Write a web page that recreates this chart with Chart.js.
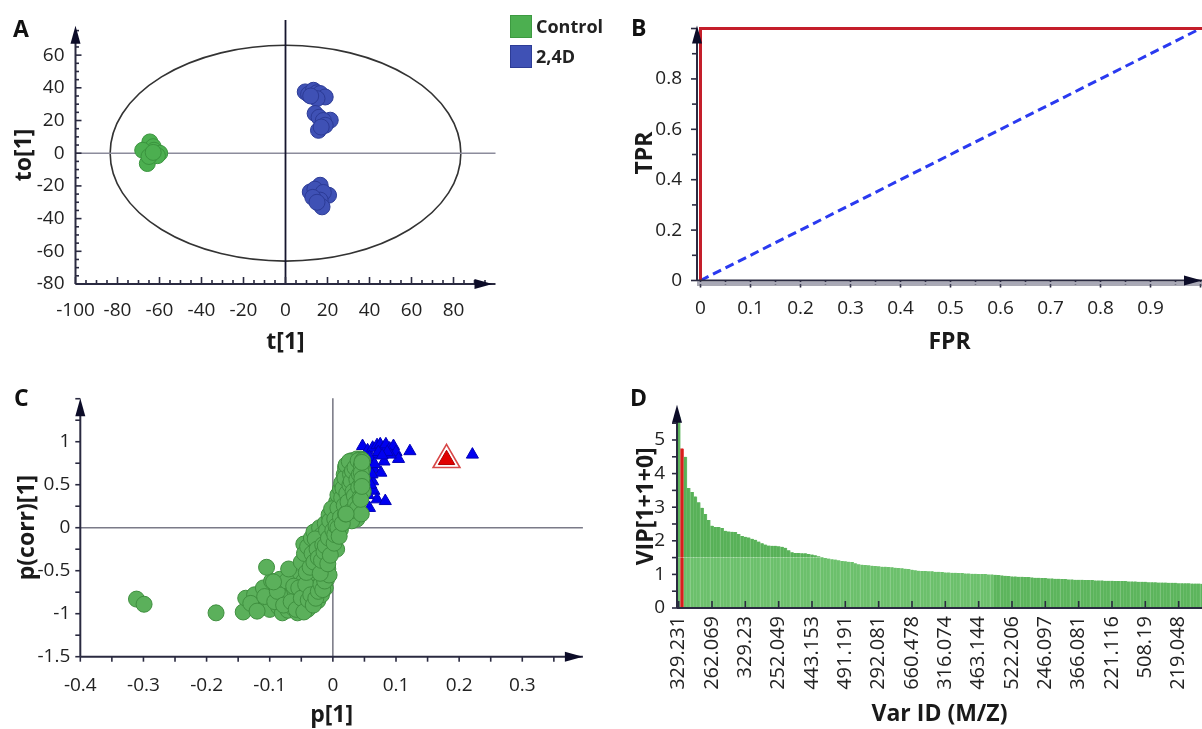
<!DOCTYPE html>
<html>
<head>
<meta charset="utf-8">
<script src="https://cdn.jsdelivr.net/npm/chart.js@4.4.1/dist/chart.umd.min.js"></script>
<style>
  body { margin: 0; background: #fff; }
  #wrap { position: relative; width: 1202px; height: 729px; overflow: hidden; font-family: 'Open Sans', sans-serif; background:#fff; }
  canvas { position: absolute; }
  .letter { position: absolute; font-weight: bold; font-size: 23px; color: #111; line-height: 1; }
  .sw { position: absolute; width: 22px; height: 23px; }
  .lt { position: absolute; font-weight: bold; font-size: 18px; color: #222; line-height: 1; }
</style>
</head>
<body>
<div id="wrap">
  <canvas id="cA" width="600" height="370" style="left:0;top:0"></canvas>
  <canvas id="cB" width="602" height="370" style="left:600px;top:0"></canvas>
  <canvas id="cC" width="600" height="359" style="left:0;top:370px"></canvas>
  <canvas id="cD" width="602" height="359" style="left:600px;top:370px"></canvas>
  <div class="letter" style="left:13px;top:17px">A</div>
  <div class="letter" style="left:631px;top:16px">B</div>
  <div class="letter" style="left:14px;top:386px">C</div>
  <div class="letter" style="left:630px;top:386px">D</div>
  <div class="sw" style="left:510px;top:15px;background:#4caf50;border:1px solid #3d9a41;box-sizing:border-box"></div>
  <div class="sw" style="left:510px;top:45px;background:#3f51b5;border:1px solid #2d3c96;box-sizing:border-box"></div>
  <div class="lt" style="left:536px;top:17px">Control</div>
  <div class="lt" style="left:536px;top:47px">2,4D</div>
</div>
<script>
// ---------------- DATA ----------------
// Panel A: OPLS-DA score plot  (t[1], to[1])
const controlT  = [-64.6, -63.0, -62.6, -59.9, -68.0, -65.8, -61.0, -65.0, -63.0];
const controlTo = [  6.9,   4.0,   1.8,   0.0,   1.8,  -6.3,  -1.5,  -2.0,   0.5];
const treatT  = [9.4, 11.0, 13.3, 15.0, 16.5, 18.9, 15.0, 12.0,
                 14.1, 16.0, 21.3, 18.0, 18.9, 15.7, 17.0,
                 16.5, 11.8, 14.0, 20.5, 18.0, 16.5, 17.4, 13.0, 15.0];
const treatTo = [37.5, 36.0, 38.5, 37.0, 36.5, 34.4, 33.4, 35.0,
                 24.3, 22.0, 20.2, 20.0, 17.1, 14.0, 16.0,
                -19.6,-23.7,-22.0,-25.7,-24.0,-28.7,-32.8,-27.0,-30.0];
const ellipseT = 83.5, ellipseTo = 66;
const ticksAx = [-100, -80, -60, -40, -20, 0, 20, 40, 60, 80];
const ticksAy = [-80, -60, -40, -20, 0, 20, 40, 60];

// Panel B: ROC curve
const rocFPR = [0, 0, 1.003];
const rocTPR = [0, 1, 1];
const chanceFPR = [0, 1];
const chanceTPR = [0, 1];
const ticksBx = [0, 0.1, 0.2, 0.3, 0.4, 0.5, 0.6, 0.7, 0.8, 0.9];
const ticksBy = [0, 0.2, 0.4, 0.6, 0.8];

// Panel C: S-plot  p[1] vs p(corr)[1]
const splotGreen = [
  [-0.311,-0.83],[-0.299,-0.89],[-0.185,-0.99],[-0.142,-0.98],[-0.138,-0.82],[-0.124,-0.78],
  [-0.118,-0.90],[-0.110,-0.70],[-0.104,-0.86],[-0.100,-0.95],[-0.097,-0.62],[-0.094,-0.78],
  [-0.090,-0.66],[-0.086,-0.92],[-0.082,-0.82],[-0.080,-0.99],[-0.077,-0.72],[-0.075,-0.88],
  [-0.071,-0.96],[-0.068,-0.80],[-0.066,-0.66],[-0.063,-0.93],[-0.060,-0.74],[-0.058,-0.86],
  [-0.056,-0.99],[-0.054,-0.58],[-0.052,-0.80],[-0.050,-0.69],[-0.048,-0.92],[-0.046,-0.62],
  [-0.044,-0.84],[-0.042,-0.76],[-0.040,-0.95],[-0.038,-0.55],[-0.036,-0.70],[-0.034,-0.88],
  [-0.032,-0.62],[-0.030,-0.80],[-0.028,-0.50],[-0.026,-0.72],[-0.024,-0.85],[-0.022,-0.60],
  [-0.020,-0.66],[-0.018,-0.78],[-0.015,-0.55],[-0.012,-0.70],[-0.010,-0.60],[-0.008,-0.48],
  [-0.130,-0.88],[-0.120,-0.97],[-0.108,-0.80],[-0.092,-0.86],[-0.088,-0.74],[-0.084,-0.60],
  [-0.078,-0.90],[-0.073,-0.62],[-0.066,-0.86],[-0.062,-0.68],[-0.058,-0.95],[-0.054,-0.70],
  [-0.050,-0.82],[-0.046,-0.98],[-0.043,-0.66],[-0.039,-0.84],[-0.035,-0.78],[-0.031,-0.90],
  [-0.027,-0.82],[-0.023,-0.74],[-0.019,-0.66],[-0.016,-0.72],[-0.013,-0.62],[-0.010,-0.52],
  [-0.006,-0.55],
  [-0.105,-0.46],[-0.070,-0.48],[-0.094,-0.63],[-0.046,-0.19],
  [-0.050,-0.40],[-0.045,-0.30],[-0.040,-0.22],[-0.042,-0.52],[-0.034,-0.12],[-0.030,-0.05],
  [-0.026,-0.42],[-0.021,0.00],[-0.017,-0.08],[-0.012,0.05],[-0.006,0.15],[0.006,0.30],
  [0.008,0.38],[0.006,-0.25],[0.012,0.45],[0.012,-0.02],
  [-0.036,-0.46],[-0.033,-0.30],[-0.030,-0.40],[-0.028,-0.13],[-0.025,-0.25],[-0.023,-0.35],
  [-0.020,-0.53],[-0.018,-0.38],[-0.016,-0.20],[-0.014,-0.28],[-0.012,-0.21],[-0.010,-0.03],
  [-0.008,-0.42],[-0.007,-0.12],[-0.005,0.08],[-0.004,-0.32],[-0.002,0.22],[0.000,-0.03],
  [0.002,-0.18],[0.003,0.10],[0.003,-0.08],[0.005,0.02],[0.008,0.23],[0.008,0.00],
  [0.010,-0.10],[0.012,0.12],
  [0.014,0.52],[0.018,0.62],[0.020,0.70],[0.028,0.76],[0.030,0.78],[0.038,0.80],
  [0.044,0.80],[0.046,0.79],[0.047,0.68],[0.046,0.58],[0.038,0.10],[0.030,0.08],
  [0.014,0.35],[0.015,0.05],[0.016,0.46],[0.018,0.26],[0.019,0.58],[0.020,0.16],
  [0.021,0.73],[0.022,0.40],[0.024,0.30],[0.026,0.77],[0.027,0.50],[0.028,0.62],
  [0.029,0.54],[0.030,0.20],[0.031,0.66],[0.032,0.42],[0.034,0.37],[0.035,0.70],
  [0.036,0.28],[0.038,0.56],[0.039,0.23],[0.040,0.78],[0.041,0.47],[0.042,0.62],
  [0.043,0.35],[0.045,0.72],[0.045,0.16],[0.046,0.52],[0.047,0.78],[0.048,0.42],
  [0.044,0.33],[0.045,0.64],[0.046,0.57],[0.046,0.76],[0.046,0.48],[0.021,0.16]
];
const splotBlue = [
  [0.047,0.95],[0.055,0.90],[0.063,0.93],[0.070,0.96],[0.075,0.97],[0.080,0.93],[0.084,0.97],
  [0.090,0.92],[0.096,0.95],[0.100,0.88],[0.104,0.80],[0.122,0.89],[0.221,0.85],[0.070,0.85],
  [0.091,0.85],[0.081,0.77],[0.065,0.68],[0.076,0.64],[0.063,0.54],[0.065,0.43],[0.070,0.33],
  [0.083,0.31],[0.058,0.23],[0.060,0.77],[0.052,0.58],[0.058,0.82],[0.066,0.74],[0.060,0.50],
  [0.056,0.38],[0.072,0.88],[0.086,0.88],[0.078,0.84],[0.062,0.62]
];
const splotRed = [[0.180, 0.79]];
const ticksCx = [-0.4, -0.3, -0.2, -0.1, 0, 0.1, 0.2, 0.3];
const ticksCy = [-1.5, -1, -0.5, 0, 0.5, 1];

// Panel D: VIP values, sorted
const vipValues = [
  5.70, 4.75, 4.50, 3.57, 3.45, 3.32, 3.15, 2.98, 2.80, 2.62,
  2.45, 2.41, 2.41, 2.38, 2.30, 2.28, 2.27, 2.26, 2.20, 2.14,
  2.12, 2.10, 2.06, 2.03, 1.98, 1.93, 1.89, 1.86, 1.85, 1.85,
  1.84, 1.82, 1.79, 1.72, 1.66, 1.64, 1.64, 1.63, 1.63, 1.61,
  1.59, 1.57, 1.54, 1.52, 1.49, 1.47, 1.45, 1.44, 1.42, 1.40,
  1.39, 1.38, 1.37, 1.33, 1.30, 1.29, 1.28, 1.27, 1.26, 1.25,
  1.24, 1.23, 1.23, 1.22, 1.21, 1.20, 1.19, 1.18, 1.17, 1.16,
  1.14, 1.12, 1.11, 1.10, 1.10, 1.09, 1.09, 1.08, 1.08, 1.07,
  1.06, 1.06, 1.05, 1.05, 1.04, 1.04, 1.03, 1.03, 1.02, 1.02,
  1.01, 1.01, 1.01, 1.00, 1.00, 0.99, 0.98, 0.97, 0.96, 0.95,
  0.94, 0.94, 0.93, 0.93, 0.92, 0.92, 0.91, 0.90, 0.90, 0.89,
  0.89, 0.88, 0.88, 0.87, 0.87, 0.86, 0.86, 0.85, 0.85, 0.84,
  0.84, 0.84, 0.83, 0.83, 0.83, 0.82, 0.82, 0.82, 0.81, 0.81,
  0.81, 0.80, 0.80, 0.80, 0.80, 0.79, 0.79, 0.79, 0.78, 0.78,
  0.78, 0.77, 0.77, 0.77, 0.76, 0.76, 0.76, 0.75, 0.75, 0.75,
  0.74, 0.74, 0.74, 0.74, 0.73, 0.73, 0.73, 0.72
];
const vipHighlight = 1;   // index of the highlighted (red) variable
const vipTickLabels = ['329.231','262.069','329.23','252.049','443.153','491.191','292.081','660.478',
                       '316.074','463.144','522.206','246.097','366.081','221.116','508.19','219.048'];
const ticksDy = [0, 1, 2, 3, 4, 5];

// ---------------- STYLE / HELPERS ----------------
Chart.defaults.font.family = "'Open Sans', sans-serif";
Chart.defaults.color = '#222';
const AXIS = '#2a2a40';
const TICKFONT = { size: 19 };
const TITLEFONT = { size: 23, weight: 'bold' };
const xy = (xs, ys) => xs.map((v, i) => ({ x: v, y: ys[i] }));
const pairs = arr => arr.map(p => ({ x: p[0], y: p[1] }));
const fixTicks = vals => s => { s.ticks = vals.map(v => ({ value: v })); };
const fitX = h => s => { s.height = h; s.paddingLeft = 0; s.paddingRight = 0; };
const fitY = w => s => { s.width = w; s.paddingTop = 0; s.paddingBottom = 0; };

function strokeLine(ctx, x1, y1, x2, y2, color, w, dash) {
  ctx.save(); ctx.beginPath(); ctx.strokeStyle = color; ctx.lineWidth = w;
  if (dash) ctx.setLineDash(dash);
  ctx.moveTo(x1, y1); ctx.lineTo(x2, y2); ctx.stroke(); ctx.restore();
}
function tickSet(ctx, scale, isX, spec, ca) {
  const n = Math.round((spec.to - spec.from) / spec.step);
  for (let k = 0; k <= n; k++) {
    const v = spec.from + k * spec.step;
    const major = spec.majorEvery ? (k % spec.majorEvery === 0) : true;
    const len = major ? spec.majorLen : spec.minorLen;
    const p = scale.getPixelForValue(v);
    if (isX) strokeLine(ctx, p, ca.bottom, p, ca.bottom + spec.dir * len, AXIS, 1.6);
    else strokeLine(ctx, ca.left, p, ca.left + spec.dir * len, p, AXIS, 1.6);
  }
}
const decor = {
  id: 'decor',
  beforeDatasetsDraw(chart, args, o) {
    const { ctx, chartArea: ca, scales: { x, y } } = chart;
    if (o.ellipse) {
      const cx = x.getPixelForValue(0), cy = y.getPixelForValue(0);
      const rx = x.getPixelForValue(o.ellipse.rx) - cx, ry = cy - y.getPixelForValue(o.ellipse.ry);
      ctx.save(); ctx.beginPath(); ctx.ellipse(cx, cy, rx, ry, 0, 0, Math.PI * 2);
      ctx.strokeStyle = '#333'; ctx.lineWidth = 1.6; ctx.stroke(); ctx.restore();
    }
    if (o.refY !== undefined) {
      const py = y.getPixelForValue(o.refY);
      strokeLine(ctx, ca.left, py, ca.right, py, o.refYColor, o.refYWidth);
    }
    if (o.refX !== undefined) {
      const px = x.getPixelForValue(o.refX);
      strokeLine(ctx, px, o.refXTop !== undefined ? o.refXTop : ca.top, px, ca.bottom, o.refXColor, o.refXWidth);
    }
  },
  afterDatasetsDraw(chart, args, o) {
    const { ctx, chartArea: ca, scales: { x, y } } = chart;
    if (o.xTicks) tickSet(ctx, x, true, o.xTicks, ca);
    if (o.yTicks) tickSet(ctx, y, false, o.yTicks, ca);
    if (o.doubleX) {
      strokeLine(ctx, ca.left, ca.bottom + 2.5, ca.right, ca.bottom + 2.5, '#a8a8b6', 2);
      strokeLine(ctx, ca.left, ca.bottom + 4.5, ca.right, ca.bottom + 4.5, '#55556a', 1);
    }
    strokeLine(ctx, ca.left, ca.bottom, ca.right, ca.bottom, AXIS, 2);
    strokeLine(ctx, ca.left, ca.top + 8, ca.left, ca.bottom, AXIS, 2);
    ctx.save(); ctx.fillStyle = '#0c0c28';
    ctx.beginPath(); ctx.moveTo(ca.left, ca.top); ctx.lineTo(ca.left - 5, ca.top + 18); ctx.lineTo(ca.left + 5, ca.top + 18); ctx.closePath(); ctx.fill();
    if (o.xArrow) {
      const tx = ca.right + (o.xArrowShift || 0);
      ctx.beginPath(); ctx.moveTo(tx, ca.bottom); ctx.lineTo(tx - 18, ca.bottom - 5); ctx.lineTo(tx - 18, ca.bottom + 5); ctx.closePath(); ctx.fill();
    }
    ctx.restore();
  }
};
Chart.register(decor);

const common = {
  responsive: false, animation: false, events: [],
  plugins: { legend: { display: false }, tooltip: { enabled: false } }
};
function axis(extra) {
  return Object.assign({
    type: 'linear', grid: { display: false, drawTicks: false }, border: { display: false }
  }, extra);
}

// ---------------- PANEL A ----------------
new Chart(document.getElementById('cA'), {
  type: 'scatter',
  data: { datasets: [
    { label: 'Control', data: xy(controlT, controlTo), backgroundColor: '#4caf50', borderColor: '#3a943e', borderWidth: 1, pointRadius: 8 },
    { label: '2,4D', data: xy(treatT, treatTo), backgroundColor: '#3f51b5', borderColor: '#2c3b96', borderWidth: 1, pointRadius: 8 }
  ] },
  options: Object.assign({}, common, {
    layout: { padding: { left: 0, right: 104.5, top: 25.7, bottom: 0 } },
    plugins: Object.assign({}, common.plugins, { decor: {
      ellipse: { rx: ellipseT, ry: ellipseTo },
      refY: 0, refYColor: '#8c8c9c', refYWidth: 1.6,
      refX: 0, refXColor: '#15152e', refXWidth: 1.8, refXTop: 20,
      xTicks: { from: -100, to: 95, step: 5, majorEvery: 4, majorLen: 7, minorLen: 4, dir: -1 },
      yTicks: { from: -80, to: 75, step: 5, majorEvery: 4, majorLen: 6, minorLen: 3.5, dir: 1 },
      xArrow: true, xArrowShift: -3
    } }),
    scales: {
      x: axis({ min: -100, max: 100, afterFit: fitX(86), afterBuildTicks: fixTicks(ticksAx),
        ticks: { font: TICKFONT, padding: 15, autoSkip: false, maxRotation: 0, callback: v => String(v) },
        title: { display: true, text: 't[1]', font: TITLEFONT, color: '#1a1a1a', padding: { top: 0, bottom: 14 } } }),
      y: axis({ min: -80, max: 78, afterFit: fitY(75.5), afterBuildTicks: fixTicks(ticksAy),
        ticks: { font: TICKFONT, padding: 11, autoSkip: false, callback: v => String(v) },
        title: { display: true, text: 'to[1]', font: TITLEFONT, color: '#1a1a1a', padding: { top: 11, bottom: 0 } } })
    }
  })
});

// ---------------- PANEL B ----------------
new Chart(document.getElementById('cB'), {
  type: 'scatter',
  data: { datasets: [
    { data: xy(rocFPR, rocTPR), showLine: true, borderColor: '#c41e2a', borderWidth: 3, pointRadius: 0, fill: false },
    { data: xy(chanceFPR, chanceTPR), showLine: true, borderColor: '#2a3af0', borderWidth: 3, borderDash: [9, 5], pointRadius: 0, fill: false }
  ] },
  options: Object.assign({}, common, {
    layout: { padding: { left: 0, right: 0, top: 25.5, bottom: 0 } },
    plugins: Object.assign({}, common.plugins, { decor: {
      xTicks: { from: 0, to: 1.0, step: 0.05, majorEvery: 2, majorLen: 7, minorLen: 4, dir: 1 },
      yTicks: { from: 0, to: 1.0, step: 0.1, majorEvery: 2, majorLen: 6, minorLen: 5, dir: -1 },
      xArrow: true, doubleX: true
    } }),
    scales: {
      x: axis({ min: -0.007, max: 1.003, afterFit: fitX(89.5), afterBuildTicks: fixTicks(ticksBx),
        ticks: { font: TICKFONT, padding: 17, autoSkip: false, maxRotation: 0, callback: v => String(v) },
        title: { display: true, text: 'FPR', font: TITLEFONT, color: '#1a1a1a', padding: { top: 0, bottom: 14 } } }),
      y: axis({ min: 0, max: 1.012, afterFit: fitY(97), afterBuildTicks: fixTicks(ticksBy),
        ticks: { font: TICKFONT, padding: 15, autoSkip: false, callback: v => String(v) },
        title: { display: true, text: 'TPR', font: TITLEFONT, color: '#1a1a1a', padding: { top: 32, bottom: 0 } } })
    }
  })
});

// ---------------- PANEL C ----------------
new Chart(document.getElementById('cC'), {
  type: 'scatter',
  data: { datasets: [
    { data: pairs(splotRed), pointStyle: 'triangle', pointRadius: 9.5, backgroundColor: '#e10000', borderColor: '#b00000', borderWidth: 1 },
    { data: pairs(splotRed), pointStyle: 'triangle', pointRadius: 15.5, backgroundColor: '#ffffff', borderColor: '#d84848', borderWidth: 1.6 },
    { data: pairs(splotGreen), pointRadius: 8, backgroundColor: '#5bb05b', borderColor: '#3f8f3f', borderWidth: 1 },
    { data: pairs(splotBlue), pointStyle: 'triangle', pointRadius: 7, backgroundColor: '#0000f0', borderColor: '#0000b8', borderWidth: 1 }
  ] },
  options: Object.assign({}, common, {
    layout: { padding: { left: 0, right: 11, top: 28.3, bottom: 0 } },
    plugins: Object.assign({}, common.plugins, { decor: {
      refY: 0, refYColor: '#7a7a88', refYWidth: 1.4,
      refX: 0, refXColor: '#6a6a78', refXWidth: 1.4,
      xTicks: { from: -0.4, to: 0.35, step: 0.05, majorEvery: 2, majorLen: 5, minorLen: 5, dir: 1 },
      yTicks: { from: -1.5, to: 1.5, step: 0.25, majorEvery: 2, majorLen: 5, minorLen: 5, dir: -1 },
      xArrow: true
    } }),
    scales: {
      x: axis({ min: -0.4, max: 0.396, afterFit: fitX(72.3), afterBuildTicks: fixTicks(ticksCx),
        ticks: { font: TICKFONT, padding: 17, autoSkip: false, maxRotation: 0, callback: v => String(v) },
        title: { display: true, text: 'p[1]', font: TITLEFONT, color: '#1a1a1a', padding: { top: 0, bottom: 0 } } }),
      y: axis({ min: -1.5, max: 1.505, afterFit: fitY(80.3), afterBuildTicks: fixTicks(ticksCy),
        ticks: { font: TICKFONT, padding: 10, autoSkip: false, callback: v => String(v) },
        title: { display: true, text: 'p(corr)[1]', font: TITLEFONT, color: '#1a1a1a', padding: { top: 14, bottom: 0 } } })
    }
  })
});

// ---------------- PANEL D ----------------
const VIP_BAND = 1.5;
const lowPart = vipValues.map((v, i) => ({ x: i, y: Math.min(v, VIP_BAND) }));
const highPart = vipValues.map((v, i) => ({ x: i, y: Math.max(v - VIP_BAND, 0) }));
const lowCol = vipValues.map((v, i) => i === vipHighlight ? '#d81e1e' : (v >= 1 ? '#6cc06c' : '#5db55d'));
const lowEdge = vipValues.map((v, i) => i === vipHighlight ? '#e85050' : (v >= 1 ? '#80ca80' : '#70bf70'));
const highCol = vipValues.map((v, i) => i === vipHighlight ? '#d81e1e' : '#58b158');
const highEdge = vipValues.map((v, i) => i === vipHighlight ? '#e85050' : '#6cbc6c');
const stripe = { left: 0, right: 1, top: 0, bottom: 0 };
new Chart(document.getElementById('cD'), {
  type: 'bar',
  data: { datasets: [
    { data: lowPart, backgroundColor: lowCol, borderColor: lowEdge, borderWidth: stripe, borderSkipped: false, barPercentage: 1, categoryPercentage: 1 },
    { data: highPart, backgroundColor: highCol, borderColor: highEdge, borderWidth: stripe, borderSkipped: false, barPercentage: 1, categoryPercentage: 1 }
  ] },
  options: Object.assign({}, common, {
    layout: { padding: { left: 0, right: 0, top: 34.7, bottom: 0 } },
    plugins: Object.assign({}, common.plugins, { decor: {
      xTicks: { from: 0, to: 150, step: 10, majorLen: 7, minorLen: 7, dir: -1 },
      yTicks: { from: 0, to: 5.5, step: 0.5, majorLen: 5, minorLen: 5, dir: -1 }
    } }),
    scales: {
      x: axis({ min: -0.5, max: 157, offset: false, stacked: true, afterFit: fitX(121), afterBuildTicks: fixTicks(vipTickLabels.map((_, k) => k * 10)),
        ticks: { font: { size: 20 }, padding: 8, autoSkip: false, minRotation: 90, maxRotation: 90, callback: v => vipTickLabels[Math.round(v / 10)] },
        title: { display: true, text: 'Var ID (M/Z)', font: TITLEFONT, color: '#1a1a1a', padding: { top: 0, bottom: 1 } } }),
      y: axis({ min: 0, max: 6.05, stacked: true, afterFit: fitY(77), afterBuildTicks: fixTicks(ticksDy),
        ticks: { font: TICKFONT, padding: 12, autoSkip: false, callback: v => String(v) },
        title: { display: true, text: 'VIP[1+1+0]', font: TITLEFONT, color: '#1a1a1a', padding: { top: 33, bottom: 0 } } })
    }
  })
});
</script>
</body>
</html>
